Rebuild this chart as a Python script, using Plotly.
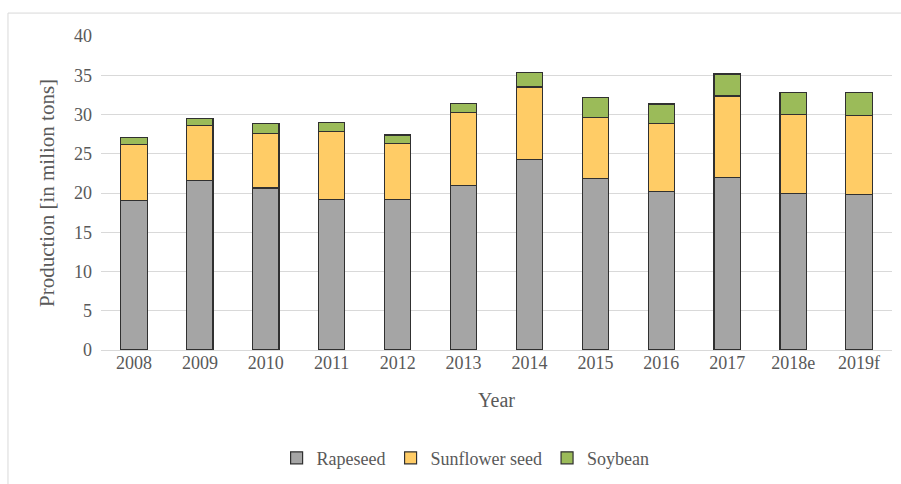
import plotly.graph_objects as go

years = ["2008", "2009", "2010", "2011", "2012", "2013", "2014", "2015",
         "2016", "2017", "2018e", "2019f"]
rapeseed = [19.0, 21.55, 20.65, 19.2, 19.2, 20.95, 24.3, 21.85, 20.15, 21.95, 19.9, 19.85]
sunflower = [7.2, 7.0, 6.9, 8.6, 7.15, 9.3, 9.2, 7.8, 8.7, 10.4, 10.1, 10.05]
soybean = [0.85, 0.95, 1.3, 1.2, 1.05, 1.2, 1.9, 2.5, 2.5, 2.8, 2.85, 2.95]
y_ticks = [0, 5, 10, 15, 20, 25, 30, 35, 40]

series = [
    ("Rapeseed", rapeseed, "#A5A5A5"),
    ("Sunflower seed", sunflower, "#FFCC66"),
    ("Soybean", soybean, "#9BBB59"),
]

FONT = "Liberation Serif"
TXT = "#595959"

fig = go.Figure()
for name, vals, color in series:
    fig.add_trace(go.Bar(
        x=years, y=vals, name=name,
        marker=dict(color=color, line=dict(color="#303030", width=1.2)),
        width=0.4,
    ))

fig.update_layout(
    width=901, height=484,
    barmode="stack",
    paper_bgcolor="white", plot_bgcolor="white",
    margin=dict(l=101, r=9, t=36, b=133),
    font=dict(family=FONT, color=TXT, size=18),
    showlegend=True,
    legend=dict(
        orientation="h", x=0.222, xanchor="left", y=-0.34, yanchor="middle",
        font=dict(family=FONT, size=18, color=TXT),
        itemwidth=30, traceorder="normal", tracegroupgap=0,
    ),
    xaxis=dict(
        title=dict(text="Year", font=dict(family=FONT, size=20, color=TXT), standoff=20),
        tickfont=dict(family=FONT, size=18, color=TXT),
        showgrid=False, showline=False, ticks="",
    ),
    yaxis=dict(
        title=dict(text="Production [in milion tons]",
                   font=dict(family=FONT, size=21, color=TXT), standoff=13),
        range=[0, 40], tickvals=y_ticks,
        tickfont=dict(family=FONT, size=18, color=TXT),
        showgrid=True, gridcolor="#D9D9D9", gridwidth=1,
        zeroline=True, zerolinecolor="#D9D9D9", zerolinewidth=1,
        showline=False, ticks="", ticklabelstandoff=8,
    ),
    shapes=[dict(
        type="rect", xref="paper", yref="paper",
        x0=-0.1176, x1=1.2, y0=-0.6, y1=1.073,
        line=dict(color="#D9D9D9", width=1), fillcolor="rgba(0,0,0,0)",
        layer="below",
    )],
)

fig.write_html("out.html")
